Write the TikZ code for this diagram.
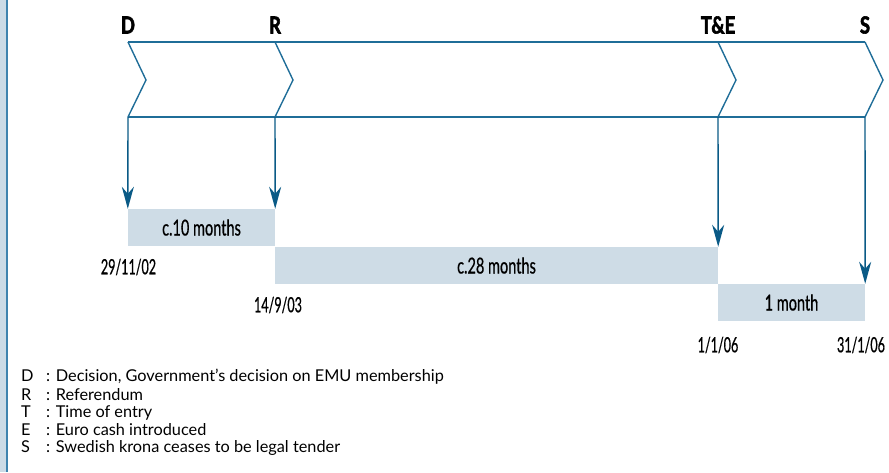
\documentclass[tikz,border=0pt]{standalone}
\usepackage{fontspec}
\setmainfont{Lato}
\newfontfamily\condfont[FakeStretch=0.6,FakeBold=0.6]{Lato}
\newfontfamily\boxfont[FakeStretch=0.66,FakeBold=0.6]{Lato}
\newfontfamily\headfont[FakeStretch=0.78,FakeBold=2.5]{Lato}
\usetikzlibrary{arrows.meta}
\definecolor{lineblue}{HTML}{1F6D98}
\definecolor{arrowblue}{HTML}{0A5A86}
\definecolor{boxfill}{HTML}{CEDCE6}
\definecolor{barfill}{HTML}{CCDBE6}
\definecolor{barline}{HTML}{3F83AE}
\tikzset{
  frame/.style={draw=lineblue, line width=1.4pt, line join=miter},
  drop/.style={draw=arrowblue, line width=1.4pt, -{Stealth[length=22pt,width=12pt,inset=7pt]}},
  period/.style={fill=boxfill, draw=none, inner sep=0pt, font=\boxfont\fontsize{22}{24}\selectfont},
  datelbl/.style={inner sep=0pt, font=\condfont\fontsize{21}{23}\selectfont},
  headlbl/.style={inner sep=0pt, font=\headfont\bfseries\fontsize{23.5}{25}\selectfont},
  legend/.style={anchor=west, inner sep=0pt, font=\fontsize{16.3}{18}\selectfont}
}
\begin{document}
\begin{tikzpicture}[x=1pt,y=-1pt]
\useasboundingbox (0,0) rectangle (889,472);
% left bar
\fill[barfill] (0,0) rectangle (6,472);
\draw[barline, line width=1.6pt] (6.8,0) -- (6.8,472);
% key points
\coordinate (Dt) at (128,42); \coordinate (Db) at (128,117);
\coordinate (Rt) at (275,42); \coordinate (Rb) at (275,117);
\coordinate (Tt) at (718,42); \coordinate (Tb) at (718,117);
\coordinate (St) at (865,42); \coordinate (Sb) at (865,117);
% head labels
\node[headlbl] (hD) at (128,25) {D};
\node[headlbl] (hR) at (275,25) {R};
\node[headlbl] (hT) at (718,25) {T\&E};
\node[headlbl] (hS) at (865,25) {S};
% frame
\draw[frame] (Dt) -- (St);
\draw[frame] (Db) -- (Sb);
\draw[frame] (Dt) -- ++(18,38) -- (Db);
\draw[frame] (Rt) -- ++(18,38) -- (Rb);
\draw[frame] (Tt) -- ++(18,38) -- (Tb);
\draw[frame] (St) -- ++(18,38) -- (Sb);
% period boxes
\node[period, minimum width=147pt, minimum height=37pt] (p1) at (201.5,227.5) {c.10 months};
\node[period, minimum width=443pt, minimum height=37pt] (p2) at (496.5,265.5) {c.28 months};
\node[period, minimum width=147pt, minimum height=37pt] (p3) at (791.5,302.5) {1 month};
% arrows
\draw[drop] (Db) -- (p1.north west);
\draw[drop] (Rb) -- (p1.north east);
\draw[drop] (Tb) -- (p2.north east);
\draw[drop] (Sb) -- (p3.north east);
% dates
\node[datelbl] (d1) at (128.5,267) {29/11/02};
\node[datelbl] (d2) at (278,305) {14/9/03};
\node[datelbl] (d3) at (718,345) {1/1/06};
\node[datelbl] (d4) at (861,345) {31/1/06};
% legend
\node[legend] (l1) at (21,377) {\makebox[25pt][l]{D}: Decision, Government’s decision on EMU membership};
\node[legend] (l2) at (21,395) {\makebox[25pt][l]{R}: Referendum};
\node[legend] (l3) at (21,413) {\makebox[25pt][l]{T}: Time of entry};
\node[legend] (l4) at (21,430) {\makebox[25pt][l]{E}: Euro cash introduced};
\node[legend] (l5) at (21,448) {\makebox[25pt][l]{S}: Swedish krona ceases to be legal tender};
\end{tikzpicture}
\end{document}
